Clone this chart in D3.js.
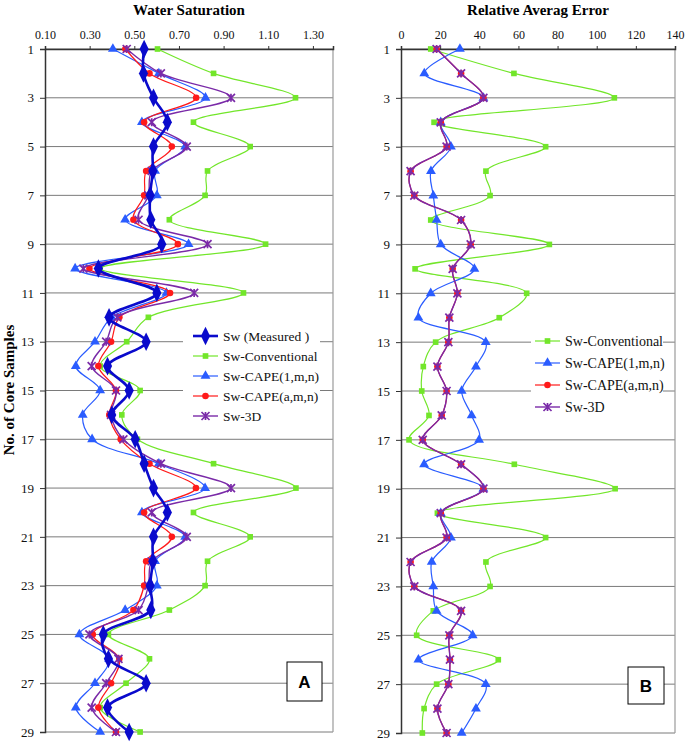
<!DOCTYPE html>
<html><head><meta charset="utf-8">
<script src="https://cdn.jsdelivr.net/npm/d3@7/dist/d3.min.js"></script>
<style>body{margin:0;background:#fff}svg{display:block}</style>
</head><body>
<script>
const rows = d3.range(1, 30);
const rowTicks = [1,3,5,7,9,11,13,15,17,19,21,23,25,27,29];
const swTicks = [0.10,0.30,0.50,0.70,0.90,1.10,1.30];
const errTicks = [0,20,40,60,80,100,120,140];

// Panel A: Water Saturation
const swMeasured = [0.544,0.541,0.586,0.648,0.586,0.583,0.571,0.574,0.623,0.339,0.601,0.387,0.553,0.380,0.477,0.399,0.504,0.544,0.586,0.648,0.586,0.583,0.571,0.574,0.361,0.384,0.553,0.380,0.477];
const swConventional = [0.604,0.855,1.222,0.765,1.019,0.828,0.817,0.657,1.088,0.347,0.989,0.563,0.466,0.347,0.526,0.444,0.514,0.855,1.224,0.765,1.019,0.828,0.817,0.657,0.384,0.568,0.463,0.347,0.526];
const swCape1 = [0.404,0.610,0.819,0.534,0.728,0.593,0.601,0.459,0.743,0.235,0.644,0.399,0.324,0.238,0.347,0.269,0.311,0.610,0.817,0.534,0.728,0.593,0.601,0.459,0.254,0.387,0.324,0.238,0.347];
const swCapeA = [0.460,0.568,0.777,0.544,0.668,0.553,0.544,0.496,0.695,0.299,0.660,0.433,0.396,0.339,0.418,0.388,0.439,0.568,0.776,0.544,0.668,0.553,0.544,0.496,0.314,0.433,0.396,0.339,0.418];
const sw3D = [0.466,0.619,0.933,0.578,0.735,0.578,0.563,0.519,0.828,0.272,0.768,0.424,0.374,0.309,0.418,0.396,0.451,0.619,0.933,0.578,0.735,0.578,0.563,0.519,0.299,0.429,0.374,0.309,0.418];

// Panel B: Relative Average Error
const errConventional = [15.2,57.7,109.0,16.9,73.9,43.4,45.5,15.2,75.8,7.2,64.2,50.2,17.7,11.4,10.6,14.3,4.1,57.9,109.4,18.6,73.9,43.4,45.5,16.5,8.0,49.7,18.2,11.8,10.9];
const errCape1 = [30.1,11.9,42.1,20.3,25.5,15.3,16.5,18.2,20.3,37.5,15.2,8.9,43.3,38.3,31.0,36.1,39.9,11.8,42.1,20.3,25.5,15.7,16.5,18.2,36.6,8.9,43.3,38.3,31.0];
const errCapeA = [18.2,30.7,42.1,20.3,23.3,4.9,6.8,30.7,35.6,26.4,28.8,24.7,24.2,18.6,23.3,20.8,11.1,30.7,42.1,20.3,23.3,4.9,6.8,30.7,24.7,25.0,24.2,18.6,23.3];
const err3D = [18.2,30.7,42.1,20.3,23.3,4.9,6.8,30.7,35.6,26.4,28.8,24.7,24.2,18.6,23.3,20.8,11.1,30.7,42.1,20.3,23.3,4.9,6.8,30.7,24.7,25.0,24.2,18.6,23.3];

const W = 685, H = 742;
const svg = d3.select("body").append("svg").attr("width", W).attr("height", H);
const serif = "'Liberation Serif','Times New Roman',serif";

const styles = {
  meas: {color:"#0a0acc", width:2.6, sym:"diamond", size:100, label:"Sw (Measured )"},
  conv: {color:"#72e62a", width:1.2, sym:"square", size:32, label:"Sw-Conventional"},
  cape1:{color:"#2a5cff", width:1.2, sym:"triangle", size:42, label:"Sw-CAPE(1,m,n)"},
  capeA:{color:"#ff1a1a", width:1.2, sym:"circle", size:34, label:"Sw-CAPE(a,m,n)"},
  d3d:  {color:"#7a2aa8", width:1.4, sym:"star", size:40, label:"Sw-3D"}
};

function drawMarker(g, st, x, y) {
  if (st.sym === "star") {
    const r = 4;
    g.append("path").attr("transform", `translate(${x},${y})`)
      .attr("d", `M${-r},${-r}L${r},${r}M${-r},${r}L${r},${-r}M0,${-r}L0,${r}`)
      .attr("stroke", st.color).attr("stroke-width", 1.7).attr("fill","none");
  } else {
    const t = {diamond:d3.symbolDiamond, square:d3.symbolSquare, triangle:d3.symbolTriangle, circle:d3.symbolCircle}[st.sym];
    g.append("path").attr("transform", `translate(${x},${y})` + (st.sym==="diamond" ? " scale(0.85,1)" : ""))
      .attr("d", d3.symbol().type(t).size(st.size)()).attr("fill", st.color);
  }
}

function panel(opt) {
  const {x0, x1, y0, y1, domain, ticks, fmt, title, series, legend, letter} = opt;
  const g = svg.append("g");
  const x = d3.scaleLinear().domain(domain).range([x0, x1]);
  const y = d3.scaleLinear().domain([1, 29]).range([y0, y1]);

  g.selectAll("line.grid").data(rowTicks).join("line")
    .attr("x1", x0).attr("x2", x1).attr("y1", d => y(d)).attr("y2", d => y(d))
    .attr("stroke", "#7a7a7a").attr("stroke-width", 1);
  g.append("line").attr("x1", x1).attr("x2", x1).attr("y1", y0).attr("y2", y1)
    .attr("stroke", "#9a9a9a").attr("stroke-width", 1.2);

  const ax = g.append("g").attr("transform", `translate(0,${y0})`)
    .call(d3.axisTop(x).tickValues(ticks).tickFormat(fmt).tickSize(3).tickPadding(7));
  ax.select(".domain").attr("stroke", "#333").attr("stroke-width", 1.5);
  ax.selectAll(".tick line").attr("stroke", "#333");
  ax.selectAll("text").attr("font-family", serif).attr("font-size", 12).attr("fill", "#111");

  const ay = g.append("g").attr("transform", `translate(${x0},0)`)
    .call(d3.axisLeft(y).tickValues(rowTicks).tickFormat(d3.format("d")).tickSize(5).tickPadding(6));
  ay.select(".domain").attr("stroke", "#333").attr("stroke-width", 1.5);
  ay.selectAll(".tick line").attr("stroke", "#333");
  ay.selectAll("text").attr("font-family", serif).attr("font-size", 13).attr("fill", "#111");

  g.append("text").attr("x", (x0 + x1) / 2).attr("y", 15).attr("text-anchor", "middle")
    .attr("font-family", serif).attr("font-weight", "bold").attr("font-size", 15).text(title);

  const line = d3.line().x(d => x(d[1])).y(d => y(d[0])).curve(d3.curveCatmullRom.alpha(0.5));
  series.forEach(s => {
    const st = styles[s.key];
    const pts = rows.map((r, i) => [r, s.values[i]]);
    g.append("path").attr("d", line(pts)).attr("fill", "none")
      .attr("stroke", st.color).attr("stroke-width", st.width).attr("stroke-linejoin","round");
    const mg = g.append("g");
    pts.forEach(p => drawMarker(mg, st, x(p[1]), y(p[0])));
  });

  const lg = g.append("g");
  lg.append("rect").attr("x", legend.bx).attr("y", legend.by).attr("width", legend.bw).attr("height", legend.bh).attr("fill", "#fff");
  legend.keys.forEach((k, i) => {
    const st = styles[k];
    const yy = legend.y + i * legend.dy;
    lg.append("line").attr("x1", legend.x).attr("x2", legend.x + 25).attr("y1", yy).attr("y2", yy)
      .attr("stroke", st.color).attr("stroke-width", st.width);
    drawMarker(lg, st, legend.x + 12.5, yy);
    lg.append("text").attr("x", legend.x + 30).attr("y", yy + 4.5)
      .attr("font-family", serif).attr("font-size", legend.fs).attr("fill", "#111").text(st.label);
  });

  g.append("rect").attr("x", letter.x).attr("y", letter.y).attr("width", letter.w).attr("height", letter.h)
    .attr("fill", "#fff").attr("stroke", "#000").attr("stroke-width", 1);
  g.append("text").attr("x", letter.x + letter.w / 2).attr("y", letter.y + letter.h / 2 + 6)
    .attr("text-anchor", "middle").attr("font-family", "'Liberation Sans',Arial,sans-serif")
    .attr("font-weight", "bold").attr("font-size", 17).text(letter.t);
}

panel({
  x0: 45, x1: 333, y0: 49, y1: 732, domain: [0.1, 1.39], ticks: swTicks, fmt: d3.format(".2f"),
  title: "Water Saturation",
  series: [
    {key:"conv", values: swConventional},
    {key:"cape1", values: swCape1},
    {key:"capeA", values: swCapeA},
    {key:"d3d", values: sw3D},
    {key:"meas", values: swMeasured}
  ],
  legend: {bx: 183, by: 325, bw: 137, bh: 101, x: 193, y: 336, dy: 20, fs: 13.5, keys: ["meas","conv","cape1","capeA","d3d"]},
  letter: {x: 287, y: 662, w: 35, h: 39, t: "A"}
});

panel({
  x0: 401, x1: 675, y0: 49, y1: 733, domain: [0, 140], ticks: errTicks, fmt: d3.format("d"),
  title: "Relative Averag Error",
  series: [
    {key:"conv", values: errConventional},
    {key:"cape1", values: errCape1},
    {key:"capeA", values: errCapeA},
    {key:"d3d", values: err3D}
  ],
  legend: {bx: 531, by: 330, bw: 132, bh: 89, x: 535, y: 341, dy: 22, fs: 14, keys: ["conv","cape1","capeA","d3d"]},
  letter: {x: 628, y: 667, w: 36, h: 37, t: "B"}
});

svg.append("text").attr("transform", "translate(14,390) rotate(-90)").attr("text-anchor", "middle")
  .attr("font-family", serif).attr("font-weight", "bold").attr("font-size", 15).text("No. of Core Samples");
</script>
</body></html>
